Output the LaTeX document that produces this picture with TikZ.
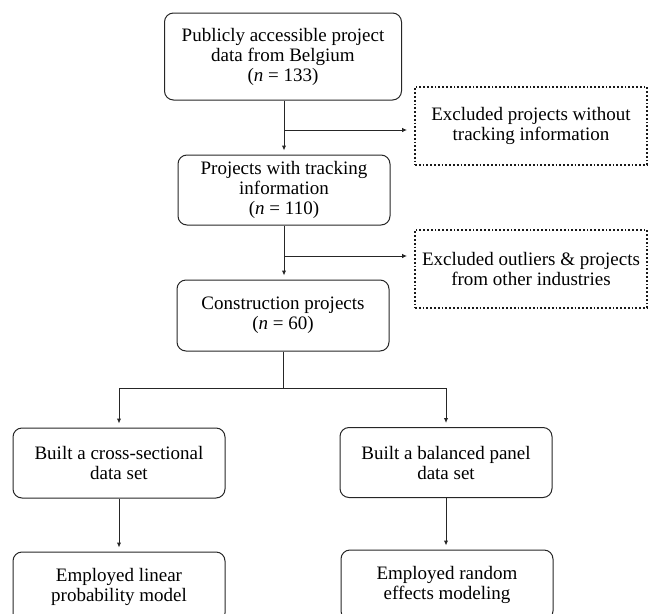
\documentclass[tikz,border=0pt]{standalone}
\usepackage{fontspec}
\setmainfont{Liberation Serif}
\usetikzlibrary{arrows.meta}
\begin{document}
\begin{tikzpicture}[x=1pt,y=-1pt,
  every node/.style={font=\fontsize{19}{20}\selectfont, align=center, inner sep=0pt},
  stepbox/.style={draw=black!85, line width=1pt, rounded corners=9pt, minimum width=212pt, minimum height=70pt},
  exclbox/.style={draw=black!90, line width=1.8pt, dotted, minimum width=232pt, minimum height=78pt},
  conn/.style={draw=black!85, line width=1pt},
  arr/.style={conn, -{Latex[length=5pt,width=4.5pt]}, shorten >=4pt}
]
\useasboundingbox (0,0) rectangle (649,614);
\clip (0,0) rectangle (649,614);
\node[stepbox, minimum width=237pt, minimum height=87pt] (b1) at (283,56.5) {Publicly accessible project\\data from Belgium\\(\textit{n} = 133)};
\node[stepbox] (b2) at (284,190) {Projects with tracking\\information\\(\textit{n} = 110)};
\node[stepbox, minimum height=71pt] (b3) at (283,315.5) {Construction projects\\(\textit{n} = 60)};
\node[exclbox] (e1) at (531,126) {Excluded projects without\\tracking information};
\node[exclbox] (e2) at (531,269) {Excluded outliers \& projects\\from other industries};
\node[stepbox] (l1) at (119,463) {Built a cross-sectional\\data set};
\node[stepbox] (r1) at (446,462.5) {Built a balanced panel\\data set};
\node[stepbox] (l2) at (119,587) {Employed linear\\probability model};
\node[stepbox] (r2) at (447,585) {Employed random\\effects modeling};
\coordinate (j1) at (284,130);
\coordinate (j2) at (284,256);
\coordinate (split) at (283,388);
\draw[arr] (b1.south -| j1) -- (b2.north -| j1);
\draw[arr, shorten >=7pt] (j1) -- (j1 -| e1.west);
\draw[arr] (b2.south -| j2) -- (b3.north -| j2);
\draw[arr, shorten >=7pt] (j2) -- (j2 -| e2.west);
\draw[conn] (b3.south -| split) -- (split);
\draw[arr] (split) -| (l1.north);
\draw[arr] (split) -| (r1.north);
\draw[arr] (l1.south) -- (l2.north);
\draw[arr] (r1.south) -- (r2.north -| r1.south);
\end{tikzpicture}
\end{document}
